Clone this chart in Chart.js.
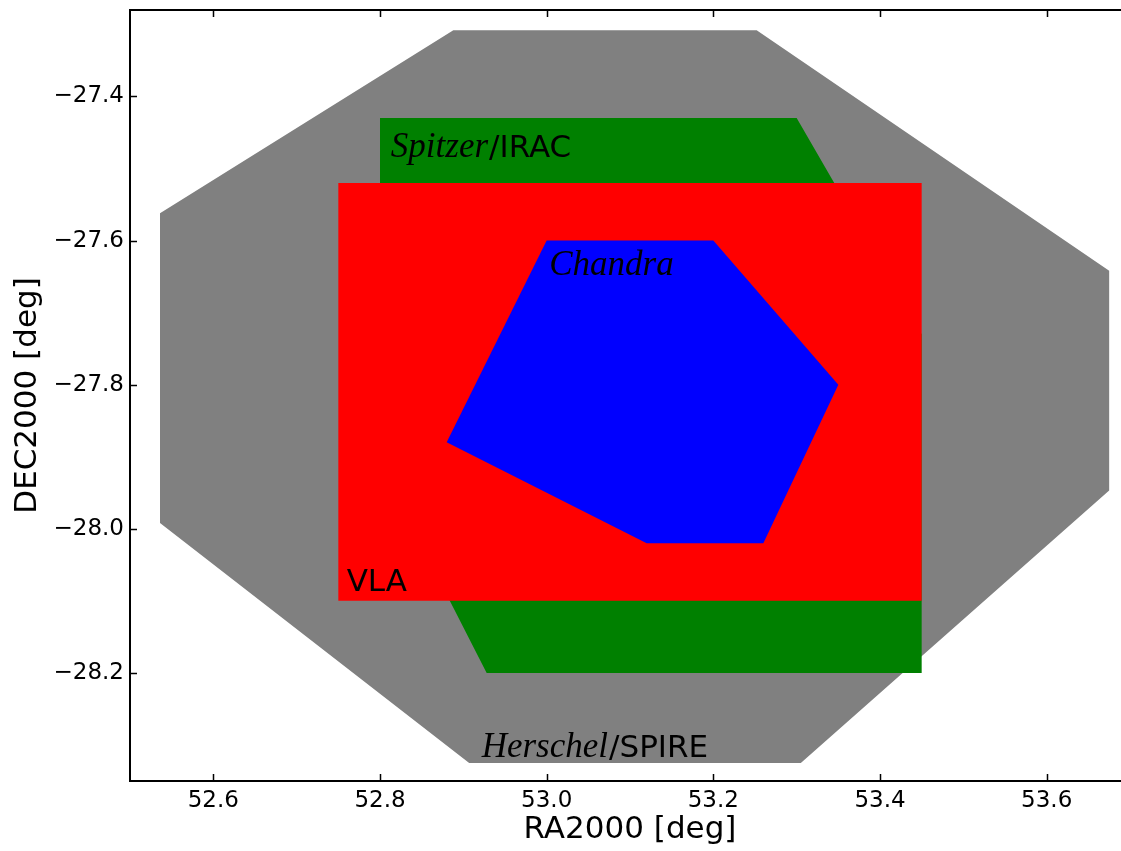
<!DOCTYPE html>
<html>
<head>
<meta charset="utf-8">
<script src="https://cdn.jsdelivr.net/npm/chart.js@4/dist/chart.umd.min.js"></script>
<style>
  html, body { margin: 0; padding: 0; overflow: hidden; background: #fff; }
  canvas#survey-chart { position: absolute; left: 0; top: 0; }
</style>
</head>
<body>
<canvas id="survey-chart" width="1140" height="851"></canvas>
<script>
// survey footprints in RA/DEC (deg), polygons closed by repeating first vertex
const hershelRa  = [52.888, 53.252, 53.675, 53.675, 53.305, 52.907, 52.536, 52.536, 52.888]
const hershelDec = [-27.308, -27.308, -27.642, -27.947, -28.325, -28.325, -27.992, -27.562, -27.308]

const spitzerRa  = [52.80, 53.30, 53.45, 53.45, 52.928, 52.80, 52.80]
const spitzerDec = [-27.43, -27.43, -27.73, -28.20, -28.20, -27.91, -27.43]

const vlaRa  = [52.75, 53.45, 53.45, 52.75, 52.75]
const vlaDec = [-27.52, -27.52, -28.10, -28.10, -27.52]

const chandraRa  = [53.00, 53.20, 53.35, 53.26, 53.12, 52.88, 53.00]
const chandraDec = [-27.60, -27.60, -27.80, -28.02, -28.02, -27.88, -27.60]

// label anchors (data coords) and text parts: [italic, roman]
const labelRa   = [52.813, 53.003, 52.760, 52.922]
const labelDec  = [-27.484, -27.648, -28.086, -28.317]
const labelText = [['Spitzer', '/IRAC'], ['Chandra', ''], ['', 'VLA'], ['Herschel', '/SPIRE']]

const raTicks  = [52.6, 52.8, 53.0, 53.2, 53.4, 53.6]
const decTicks = [-28.2, -28.0, -27.8, -27.6, -27.4]

const toPoints = (xs, ys) => xs.map((x, i) => ({ x: x, y: ys[i] }))
const fmt = v => v.toFixed(1).replace('-', '\u2212')

function polygon(xs, ys, color, order) {
  return {
    data: toPoints(xs, ys),
    showLine: true,
    fill: 'shape',
    backgroundColor: color,
    borderColor: color,
    borderWidth: 0,
    pointRadius: 0,
    tension: 0,
    order: order
  }
}

// spines, inward ticks, titles and footprint labels
const decorations = {
  id: 'decorations',
  afterDatasetsDraw(chart) {
    const ctx = chart.ctx
    const xs = chart.scales.x, ys = chart.scales.y
    ctx.save()
    ctx.fillStyle = '#000'
    ctx.textBaseline = 'alphabetic'
    labelText.forEach((parts, i) => {
      let px = xs.getPixelForValue(labelRa[i])
      const py = ys.getPixelForValue(labelDec[i])
      if (parts[0]) {
        ctx.font = 'italic 35px "Liberation Serif"'
        ctx.fillText(parts[0], px, py)
        px += ctx.measureText(parts[0]).width + 1
      }
      if (parts[1]) {
        ctx.font = '31px "DejaVu Sans"'
        ctx.fillText(parts[1], px, py)
      }
    })
    ctx.restore()
  },
  afterDraw(chart) {
    const ctx = chart.ctx
    const a = chart.chartArea
    const xs = chart.scales.x, ys = chart.scales.y
    ctx.save()
    ctx.strokeStyle = '#000'
    ctx.lineWidth = 1.5
    ctx.beginPath()
    raTicks.forEach(v => {
      const px = Math.round(xs.getPixelForValue(v)) + 0.5
      ctx.moveTo(px, a.bottom); ctx.lineTo(px, a.bottom - 7)
      ctx.moveTo(px, a.top); ctx.lineTo(px, a.top + 7)
    })
    decTicks.forEach(v => {
      const py = Math.round(ys.getPixelForValue(v)) + 0.5
      ctx.moveTo(a.left, py); ctx.lineTo(a.left + 7, py)
      ctx.moveTo(a.right, py); ctx.lineTo(a.right - 7, py)
    })
    ctx.stroke()
    ctx.lineWidth = 2
    ctx.strokeRect(a.left, a.top, a.right - a.left, a.bottom - a.top)

    ctx.fillStyle = '#000'
    ctx.font = '31px "DejaVu Sans"'
    ctx.textAlign = 'center'
    ctx.textBaseline = 'middle'
    ctx.fillText('RA2000 [deg]', (a.left + a.right) / 2, 830)
    ctx.translate(28, (a.top + a.bottom) / 2)
    ctx.rotate(-Math.PI / 2)
    ctx.fillText('DEC2000 [deg]', 0, 0)
    ctx.restore()
  }
}

const config = {
  type: 'scatter',
  data: {
    datasets: [
      polygon(chandraRa, chandraDec, '#0000ff', 1),
      polygon(vlaRa, vlaDec, '#ff0000', 2),
      polygon(spitzerRa, spitzerDec, '#008000', 3),
      polygon(hershelRa, hershelDec, '#808080', 4)
    ]
  },
  options: {
    responsive: false,
    animation: false,
    devicePixelRatio: 1,
    layout: { padding: { top: 10, right: 10, left: 0, bottom: 0 } },
    plugins: { legend: { display: false }, tooltip: { enabled: false } },
    scales: {
      x: {
        type: 'linear',
        min: 52.5,
        max: 53.7,
        grid: { display: false, drawTicks: false },
        border: { display: false },
        afterBuildTicks: s => { s.ticks = raTicks.map(v => ({ value: v })) },
        afterFit: s => { s.height = 70; s.paddingLeft = 0; s.paddingRight = 0 },
        ticks: {
          callback: fmt,
          color: '#000',
          padding: 6,
          maxRotation: 0,
          autoSkip: false,
          font: { family: 'DejaVu Sans', size: 23 }
        }
      },
      y: {
        type: 'linear',
        min: -28.35,
        max: -27.28,
        grid: { display: false, drawTicks: false },
        border: { display: false },
        afterBuildTicks: s => { s.ticks = decTicks.map(v => ({ value: v })) },
        afterFit: s => { s.width = 130; s.paddingTop = 0; s.paddingBottom = 0 },
        ticks: {
          callback: fmt,
          color: '#000',
          padding: 6,
          autoSkip: false,
          font: { family: 'DejaVu Sans', size: 23 }
        }
      }
    }
  },
  plugins: [decorations]
}

new Chart(document.getElementById('survey-chart'), config)
</script>
</body>
</html>
